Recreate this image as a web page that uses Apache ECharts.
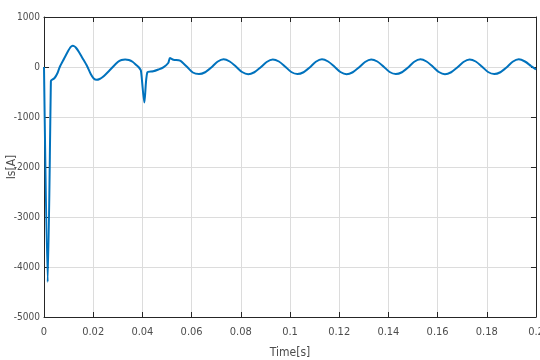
<!DOCTYPE html>
<html><head><meta charset="utf-8">
<script src="https://cdn.jsdelivr.net/npm/echarts@6/dist/echarts.min.js"></script>
<style>html,body{margin:0;padding:0;background:#fff}#c{width:540px;height:360px}</style>
</head><body><div id="c"></div>
<script>
const xTickLabels = ['0','0.02','0.04','0.06','0.08','0.1','0.12','0.14','0.16','0.18','0.2'];
const yTickLabels = ['-5000','-4000','-3000','-2000','-1000','0','1000'];
const xName = 'Time[s]';
const yName = 'Is[A]';
const times = [
  0, 0.0015, 0.0028, 0.0029, 0.0043, 0.0055, 0.0064, 0.0082, 0.0098, 0.0106, 0.0112, 0.0117, 0.0123, 0.013, 0.0142, 0.0155, 0.0175, 0.019, 0.0202, 0.0214, 0.0226, 0.024, 0.027, 0.030, 0.0315, 0.033, 0.0345, 0.036, 0.0375, 0.0386, 0.0394, 0.0408, 0.042, 0.0444, 0.0465, 0.0485, 0.0505, 0.0512, 0.0526, 0.0553,
  0.058, 0.0605, 0.063, 0.0655, 0.068, 0.0705, 0.073, 0.0755, 0.078, 0.0805,
  0.083, 0.0855, 0.088, 0.0905, 0.093, 0.0955, 0.098, 0.1005,
  0.103, 0.1055, 0.108, 0.1105, 0.113, 0.1155, 0.118, 0.1205,
  0.123, 0.1255, 0.128, 0.1305, 0.133, 0.1355, 0.138, 0.1405,
  0.143, 0.1455, 0.148, 0.1505, 0.153, 0.1555, 0.158, 0.1605,
  0.163, 0.1655, 0.168, 0.1705, 0.173, 0.1755, 0.178, 0.1805,
  0.183, 0.1855, 0.188, 0.1905, 0.193, 0.1955, 0.198, 0.2
];
const current = [
  0, -4300, -290, -270, -220, -120, 0, 170, 320, 385, 415, 425, 415, 385, 300, 190, 20, -140, -230, -255, -240, -195, -50, 100, 140, 150, 140, 105, 40, -10, -74, -710, -106, -86, -50, -6, 80, 180, 146, 126,
  10, -110, -140, -105, -10, 105, 155, 110, 10, -100,
  -145, -105, -10, 100, 150, 110, 10, -100,
  -140, -105, -10, 105, 155, 110, 10, -100,
  -145, -105, -10, 100, 150, 110, 10, -100,
  -140, -105, -10, 105, 155, 110, 10, -100,
  -145, -105, -10, 100, 150, 110, 10, -100,
  -140, -105, -10, 105, 155, 110, 20, -50
];
const data = times.map((t, i) => [t, current[i]]);
const font = "'Liberation Sans Narrow', 'DejaVu Sans Condensed', 'Liberation Sans', Arial, sans-serif";
const axisColor = '#262626';
const labelColor = '#4d4d4d';
const chart = echarts.init(document.getElementById('c'));
chart.setOption({
  animation: false,
  grid: { left: 44, right: 4, top: 17, bottom: 43, containLabel: false, outerBoundsMode: 'none' },
  xAxis: [{
    type: 'value', min: 0, max: 0.2, interval: 0.02,
    name: xName, nameLocation: 'middle', nameGap: 30, nameMoveOverlap: false,
    nameTextStyle: { fontFamily: font, fontSize: 12, color: labelColor },
    axisLine: { show: true, onZero: false, lineStyle: { color: axisColor, width: 1 } },
    axisTick: { show: true, inside: true, length: 5, lineStyle: { color: axisColor } },
    axisLabel: { fontFamily: font, fontSize: 11, color: labelColor, margin: 10, showMaxLabel: true, showMinLabel: true,
      formatter: (v) => xTickLabels[Math.round(v / 0.02)] },
    splitLine: { show: true, lineStyle: { color: '#dcdcdc', width: 1 } }
  }, {
    type: 'value', position: 'top', min: 0, max: 0.2, interval: 0.02,
    axisLine: { show: true, onZero: false, lineStyle: { color: axisColor, width: 1 } },
    axisTick: { show: true, inside: true, length: 5, lineStyle: { color: axisColor } },
    axisLabel: { show: false }, splitLine: { show: false }
  }],
  yAxis: [{
    type: 'value', min: -5000, max: 1000, interval: 1000,
    name: yName, nameLocation: 'middle', nameGap: 26, nameMoveOverlap: false,
    nameTextStyle: { fontFamily: font, fontSize: 12, color: labelColor },
    axisLine: { show: true, onZero: false, lineStyle: { color: axisColor, width: 1 } },
    axisTick: { show: true, inside: true, length: 5, lineStyle: { color: axisColor } },
    axisLabel: { fontFamily: font, fontSize: 10, color: labelColor, margin: 4, showMaxLabel: true, showMinLabel: true,
      formatter: (v) => yTickLabels[Math.round((v + 5000) / 1000)] },
    splitLine: { show: true, lineStyle: { color: '#dcdcdc', width: 1 } }
  }, {
    type: 'value', position: 'right', min: -5000, max: 1000, interval: 1000,
    axisLine: { show: true, onZero: false, lineStyle: { color: axisColor, width: 1 } },
    axisTick: { show: true, inside: true, length: 5, lineStyle: { color: axisColor } },
    axisLabel: { show: false }, splitLine: { show: false }
  }],
  series: [{
    type: 'line', data: data, showSymbol: false, smooth: 0.25,
    lineStyle: { color: '#0072BD', width: 2 }, itemStyle: { color: '#0072BD' }
  }]
});
</script></body></html>
